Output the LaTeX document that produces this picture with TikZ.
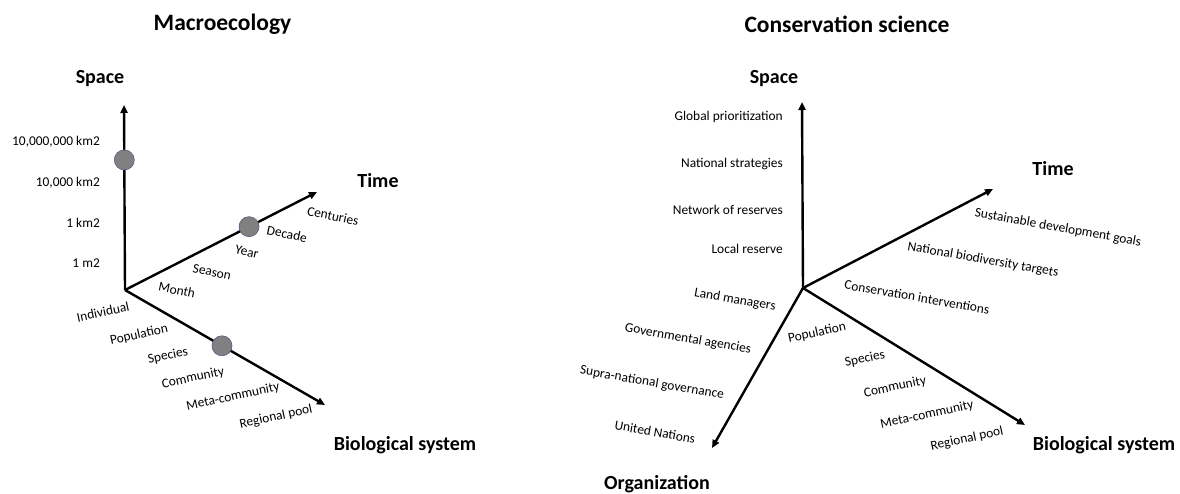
\documentclass[tikz,border=0pt]{standalone}
\usepackage{fontspec}
\setmainfont{Carlito}
\usetikzlibrary{arrows.meta,calc}
\tikzset{
  axisline/.style={line width=2.4pt,-{Triangle[length=8pt,width=7pt]}},
  lbl/.style={font=\fontsize{13.4}{15}\selectfont,inner sep=0pt},
  axname/.style={font=\fontsize{20}{23}\selectfont\bfseries,inner sep=0pt},
  titlefont/.style={font=\fontsize{23.5}{26}\selectfont\bfseries,inner sep=0pt},
  dot/.style={circle,fill=black!50,draw=black!45!blue!30!gray,line width=0.6pt,minimum size=20pt,inner sep=0pt}
}
\begin{document}
\begin{tikzpicture}[x=1pt,y=-1pt]
\useasboundingbox (0,0) rectangle (1180,494);
% ---------- Left: Macroecology ----------
\node[titlefont] (t1) at (222.5,24) {Macroecology};
\coordinate (o1) at (125,290);
\coordinate (s1) at (124,105);
\coordinate (ti1) at (317,192);
\coordinate (b1) at (325,405);
\draw[axisline] (o1) -- (s1);
\draw[axisline] (o1) -- (ti1);
\draw[axisline] (o1) -- (b1);
\node[dot] (d1) at ($(o1)!0.703!(s1)$) {};
\node[dot] (d2) at ($(o1)!0.646!(ti1)$) {};
\node[dot] (d3) at ($(o1)!0.485!(b1)$) {};
\node[axname] (sp1) at (100,79) {Space};
\node[axname] (tm1) at (378,181) {Time};
\node[axname] (bs1) at (405,445) {Biological system};
\node[lbl,anchor=east] (l1a) at (100,142) {10,000,000 km2};
\node[lbl,anchor=east] (l1b) at (100,183) {10,000 km2};
\node[lbl,anchor=east] (l1c) at (100,223) {1 km2};
\node[lbl,anchor=east] (l1d) at (100,263) {1 m2};
\node[lbl,rotate=-12] (m1a) at (177,290) {Month};
\node[lbl,rotate=-12] (m1b) at (212,272) {Season};
\node[lbl,rotate=-12] (m1c) at (247,252) {Year};
\node[lbl,rotate=-12] (m1d) at (287,234) {Decade};
\node[lbl,rotate=-12] (m1e) at (333,216) {Centuries};
\node[lbl,rotate=12] (n1a) at (103,312) {Individual};
\node[lbl,rotate=12] (n1b) at (139,335) {Population};
\node[lbl,rotate=12] (n1c) at (168,356) {Species};
\node[lbl,rotate=12] (n1d) at (193,378) {Community};
\node[lbl,rotate=12] (n1e) at (233,397) {Meta-community};
\node[lbl,rotate=12] (n1f) at (276,417) {Regional pool};
% ---------- Right: Conservation science ----------
\node[titlefont] (t2) at (847,24) {Conservation science};
\coordinate (o2) at (803,288);
\coordinate (s2) at (802,102);
\coordinate (ti2) at (993,189);
\coordinate (b2) at (1025,425);
\coordinate (g2) at (712,448);
\draw[axisline] (o2) -- (s2);
\draw[axisline] (o2) -- (ti2);
\draw[axisline] (o2) -- (b2);
\draw[axisline] (o2) -- (g2);
\node[axname] (sp2) at (774,79) {Space};
\node[axname] (tm2) at (1053,169) {Time};
\node[axname] (bs2) at (1104,445) {Biological system};
\node[axname] (or2) at (657,484) {Organization};
\node[lbl,anchor=east] (l2a) at (783,117) {Global prioritization};
\node[lbl,anchor=east] (l2b) at (783,164) {National strategies};
\node[lbl,anchor=east] (l2c) at (783,210) {Network of reserves};
\node[lbl,anchor=east] (l2d) at (783,249) {Local reserve};
\node[lbl,rotate=-10] (g2a) at (735,300) {Land managers};
\node[lbl,rotate=-10] (g2b) at (688,339) {Governmental agencies};
\node[lbl,rotate=-10] (g2c) at (652,383) {Supra-national governance};
\node[lbl,rotate=-10] (g2d) at (655,432) {United Nations};
\node[lbl,rotate=-10] (m2a) at (917,297) {Conservation interventions};
\node[lbl,rotate=-10] (m2b) at (983,260) {National biodiversity targets};
\node[lbl,rotate=-10] (m2c) at (1058,228) {Sustainable development goals};
\node[lbl,rotate=12] (n2a) at (817,333) {Population};
\node[lbl,rotate=12] (n2b) at (865,359) {Species};
\node[lbl,rotate=12] (n2c) at (895,387) {Community};
\node[lbl,rotate=12] (n2d) at (927,415) {Meta-community};
\node[lbl,rotate=12] (n2e) at (967,439) {Regional pool};
\end{tikzpicture}
\end{document}
